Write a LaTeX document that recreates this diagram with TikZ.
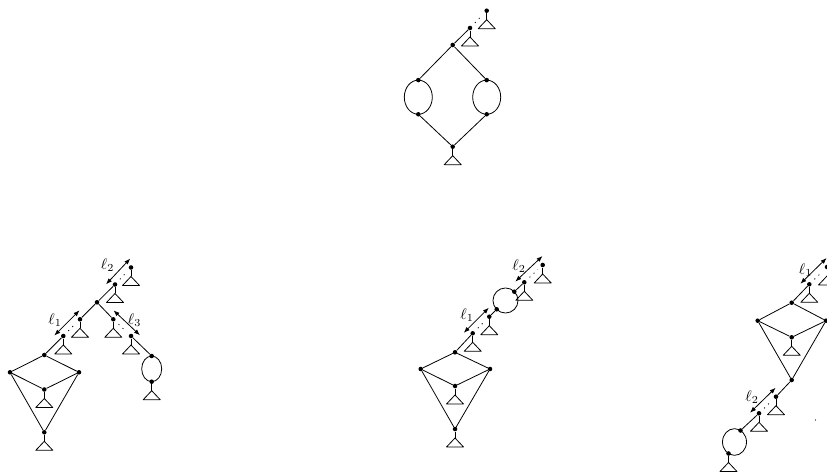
\documentclass[tikz,border=0pt]{standalone}
\usetikzlibrary{calc,arrows.meta}
\tikzset{
 dot/.style={circle,fill=black,inner sep=0pt,minimum size=3.4pt},
 edge/.style={line width=0.6pt},
 dotseg/.style={line width=0.6pt,dash pattern=on 0.8pt off 3.4pt,shorten <=3.5pt,shorten >=3pt},
 larrow/.style={line width=0.6pt,{Latex[length=4.5pt,width=3.4pt]}-{Latex[length=4.5pt,width=3.4pt]}},
 lab/.style={inner sep=0pt,scale=1.15}
}
\newcommand{\mytri}[1]{\path (#1) ++(0,9) coordinate (#1ap);
 \draw[edge] (#1) -- (#1ap);
 \draw[edge,line join=round] (#1ap) -- ++(-8.5,9) -- ++(17,0) -- cycle;}
\newcommand{\ellarrow}[2]{\draw[larrow] ($(#1)!-4.5pt!(#2)!5pt!90:(#2)$) -- ($(#2)!-4.5pt!(#1)!5pt!-90:(#1)$);}
\begin{document}
\begin{tikzpicture}[x=0.75pt,y=-0.75pt]
\useasboundingbox (0,0) rectangle (827,473);

% ---------- top diagram ----------
\node[dot] (t1) at (486.7,10.7) {};
\node[dot] (t2) at (470,28) {};
\node[dot] (t3) at (452.7,45) {};
\node[dot] (t4) at (418.3,80.1) {};
\node[dot] (t5) at (418.3,114.3) {};
\node[dot] (t6) at (486.7,80.1) {};
\node[dot] (t7) at (486.7,114.3) {};
\node[dot] (t8) at (452.7,146.7) {};
\mytri{t1}\mytri{t2}\mytri{t8}
\draw[dotseg] (t2) -- (t1);
\draw[edge] (t2) -- (t3) (t3) -- (t4) (t3) -- (t6) (t5) -- (t8) (t7) -- (t8);
\draw[edge] (418.3,97.2) ellipse [x radius=10.5pt, y radius=12.8pt];
\draw[edge] (486.7,97.2) ellipse [x radius=10.5pt, y radius=12.8pt];

% ---------- bottom-left diagram ----------
\node[dot] (a1) at (131,267.5) {};
\node[dot] (a2) at (115,284.5) {};
\node[dot] (a3) at (97,302.3) {};
\node[dot] (a4) at (80,319.3) {};
\node[dot] (a5) at (63.3,336) {};
\node[dot] (a6) at (44.3,355) {};
\node[dot] (a7) at (10,372.3) {};
\node[dot] (a8) at (79,372.3) {};
\node[dot] (a9) at (44.3,389.5) {};
\node[dot] (a10) at (44.3,432.3) {};
\node[dot] (a11) at (113.3,319.3) {};
\node[dot] (a12) at (131,336) {};
\node[dot] (a13) at (151.7,356) {};
\node[dot] (a14) at (151.7,381.7) {};
\mytri{a1}\mytri{a2}\mytri{a4}\mytri{a5}\mytri{a9}\mytri{a10}\mytri{a11}\mytri{a12}\mytri{a14}
\draw[dotseg] (a2) -- (a1);
\draw[dotseg] (a5) -- (a4);
\draw[dotseg] (a11) -- (a12);
\draw[edge] (a2) -- (a3) (a3) -- (a4) (a5) -- (a6) (a3) -- (a11) (a12) -- (a13);
\draw[edge] (a6) -- (a7) (a6) -- (a8) (a7) -- (a9) (a8) -- (a9) (a7) -- (a10) (a8) -- (a10);
\draw[edge] (151.7,368.85) ellipse [x radius=7.5pt, y radius=9.6pt];
\ellarrow{a2}{a1}
\ellarrow{a5}{a4}
\ellarrow{a11}{a12}
\node[lab] (la2) at (107.5,265.5) {$\ell_2$};
\node[lab] (la1) at (55,320) {$\ell_1$};
\node[lab] (la3) at (134.5,320) {$\ell_3$};

% ---------- bottom-middle diagram ----------
\node[dot] (b1) at (542.7,265) {};
\node[dot] (b2) at (524.3,282.3) {};
\node[dot] (b3) at (514.3,291.7) {};
\node[dot] (b4) at (496.7,309.3) {};
\node[dot] (b5) at (489.3,316.7) {};
\node[dot] (b6) at (472.7,333.3) {};
\node[dot] (b7) at (455,352.3) {};
\node[dot] (b8) at (420.7,369) {};
\node[dot] (b9) at (490,369) {};
\node[dot] (b10) at (455,386) {};
\node[dot] (b11) at (455,429) {};
\mytri{b1}\mytri{b2}\mytri{b5}\mytri{b6}\mytri{b10}\mytri{b11}
\draw[dotseg] (b2) -- (b1);
\draw[dotseg] (b6) -- (b5);
\draw[edge] (b2) -- (b3) (b4) -- (b5) (b6) -- (b7);
\draw[edge] (b7) -- (b8) (b7) -- (b9) (b8) -- (b10) (b9) -- (b10) (b8) -- (b11) (b9) -- (b11);
\draw[edge] (505.5,300.5) circle [radius=9.4pt];
\ellarrow{b2}{b1}
\ellarrow{b6}{b5}
\node[lab] (lb2) at (519,266) {$\ell_2$};
\node[lab] (lb1) at (467,315) {$\ell_1$};

% ---------- bottom-right diagram ----------
\node[dot] (c1) at (827,267) {};
\node[dot] (c2) at (809.3,284.3) {};
\node[dot] (c3) at (791.7,302.7) {};
\node[dot] (c4) at (757.7,320.7) {};
\node[dot] (c5) at (826,320.7) {};
\node[dot] (c6) at (791.7,337.3) {};
\node[dot] (c7) at (791.7,380) {};
\node[dot] (c8) at (776,396.7) {};
\node[dot] (c9) at (759,413.3) {};
\node[dot] (c10) at (740.5,430.5) {};
\node[dot] (c11) at (728.5,453.5) {};
\mytri{c1}\mytri{c2}\mytri{c6}\mytri{c8}\mytri{c9}\mytri{c11}
\draw[dotseg] (c2) -- (c1);
\draw[dotseg] (c9) -- (c8);
\draw[edge] (c2) -- (c3) (c3) -- (c4) (c3) -- (c5) (c4) -- (c6) (c5) -- (c6) (c4) -- (c7) (c5) -- (c7);
\draw[edge] (c7) -- (c8) (c9) -- (c10);
\draw[edge] (734.5,442) ellipse [x radius=9pt, y radius=10pt];
\ellarrow{c2}{c1}
\ellarrow{c9}{c8}
\node[lab] (lc1) at (805.5,270) {$\ell_1$};
\node[lab] (lc2) at (752,397) {$\ell_2$};
\node[circle,fill=black,inner sep=0pt,minimum size=1pt] (spk) at (815.5,420) {};
\end{tikzpicture}
\end{document}
